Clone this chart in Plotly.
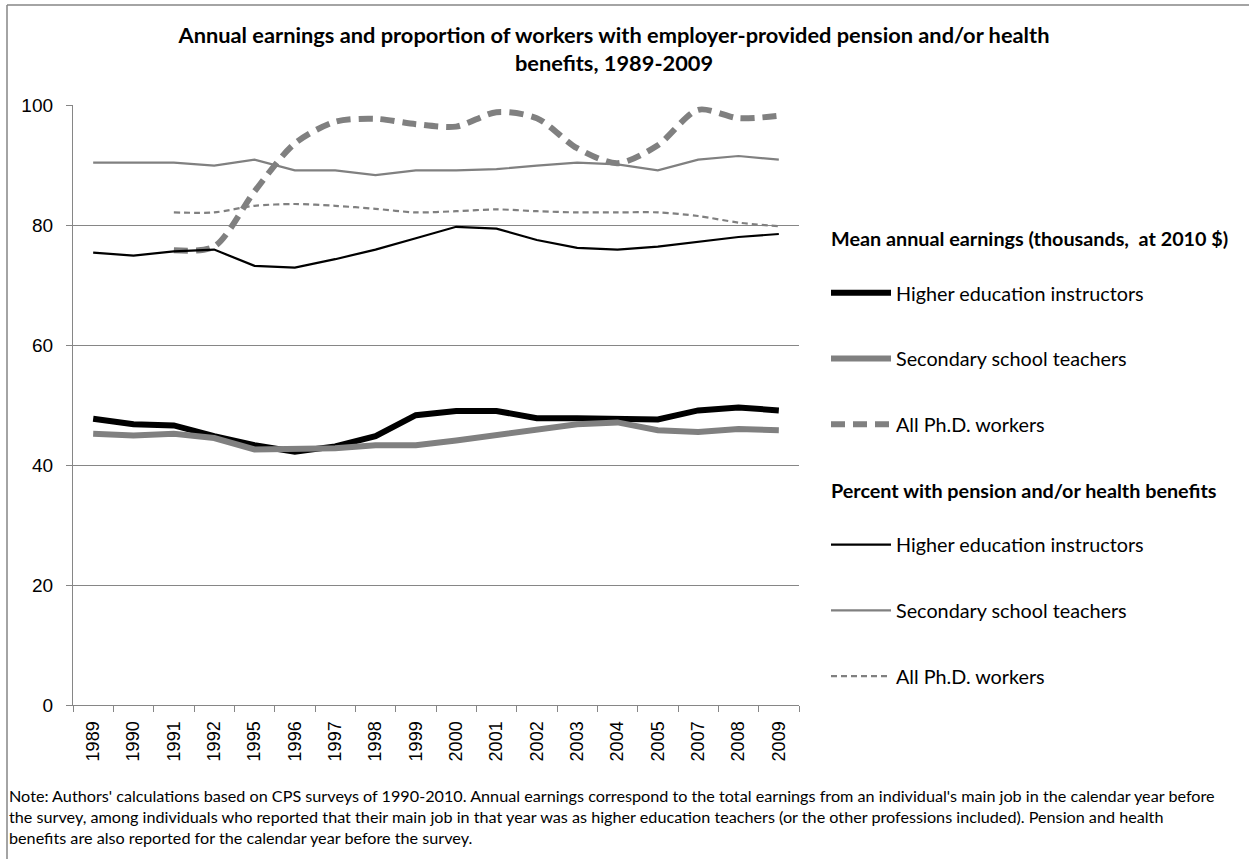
import plotly.graph_objects as go

years = ["1989", "1990", "1991", "1992", "1995", "1996", "1997", "1998", "1999",
         "2000", "2001", "2002", "2003", "2004", "2005", "2007", "2008", "2009"]

earn_higher = [47.7, 46.8, 46.6, 44.8, 43.3, 42.2, 43.1, 44.8, 48.3, 49.0, 49.0, 47.8,
               47.8, 47.6, 47.6, 49.1, 49.6, 49.1]
earn_secondary = [45.2, 44.9, 45.2, 44.5, 42.6, 42.6, 42.8, 43.3, 43.3, 44.1, 45.0, 46.0,
                  46.8, 47.1, 45.8, 45.5, 46.0, 45.8]
earn_phd = [None, None, 75.8, 76.4, 85.6, 93.6, 97.2, 97.7, 96.8, 96.4, 98.8, 97.8,
            92.8, 90.3, 93.3, 99.2, 97.8, 98.2]

pens_higher = [75.4, 74.9, 75.6, 75.9, 73.2, 72.9, 74.3, 75.9, 77.8, 79.7, 79.4, 77.5,
               76.2, 75.9, 76.4, 77.2, 78.0, 78.5]
pens_secondary = [90.4, 90.4, 90.4, 89.9, 90.9, 89.1, 89.1, 88.3, 89.1, 89.1, 89.3, 89.9,
                  90.4, 90.1, 89.1, 90.9, 91.5, 90.9]
pens_phd = [None, None, 82.1, 82.1, 83.2, 83.5, 83.2, 82.7, 82.1, 82.3, 82.6, 82.3,
            82.1, 82.1, 82.1, 81.5, 80.4, 79.8]

title_text = ("<b>Annual earnings and proportion of workers with employer-provided pension and/or health<br>"
              "benefits, 1989-2009</b>")
group1_title = "Mean annual earnings (thousands,  at 2010 $)"
group2_title = "Percent with pension and/or health benefits"
note_text = ("Note: Authors' calculations based on CPS surveys of 1990-2010. Annual earnings correspond to the total earnings from an individual's main job in the calendar year before<br>"
             "the survey, among individuals who reported that their main job in that year was as higher education teachers (or the other professions included). Pension and health<br>"
             "benefits are also reported for the calendar year before the survey.")

BLACK = "#000000"
GRAY = "#808080"
FONT = "Lato"
TICKFONT = "Liberation Sans"

L, R, T, B = 73, 450, 105, 154
PW, PH = 1249 - L - R, 859 - T - B

series = [
    ("Higher education instructors", earn_higher, BLACK, 6, "solid", "linear", group1_title),
    ("Secondary school teachers", earn_secondary, GRAY, 6, "solid", "linear", None),
    ("All Ph.D. workers", earn_phd, GRAY, 6, "14px,8px", "spline", None),
    ("Higher education instructors", pens_higher, BLACK, 2.2, "solid", "linear", group2_title),
    ("Secondary school teachers", pens_secondary, GRAY, 2.2, "solid", "linear", None),
    ("All Ph.D. workers", pens_phd, GRAY, 2.2, "6px,4px", "spline", None),
]

fig = go.Figure()
for i, (name, vals, color, width, dash, shape, gtitle) in enumerate(series):
    kw = {}
    if gtitle:
        kw["legendgrouptitle"] = dict(text="<b>" + gtitle + "</b><br>\u00a0",
                                      font=dict(family=FONT, size=19.8, color="#000000"))
    fig.add_trace(go.Scatter(
        x=years, y=vals, mode="lines", name=name,
        line=dict(color=color, width=width, dash=dash, shape=shape, smoothing=0.8),
        connectgaps=False, legendgroup="g%d" % i, **kw))

fig.update_layout(
    width=1249, height=859,
    paper_bgcolor="white", plot_bgcolor="white",
    margin=dict(l=L, r=R, t=T, b=B, autoexpand=False),
    title=dict(text=title_text, x=614 / 1249, xref="container", xanchor="center",
               y=1 - 43 / 859, yref="container", yanchor="top",
               font=dict(family=FONT, size=21.8, color="#000000")),
    font=dict(family=TICKFONT, size=19, color="#000000"),
    showlegend=True,
    legend=dict(x=826 / 1249, xref="container", xanchor="left",
                y=1 - 219 / 859, yref="container", yanchor="top",
                maxheight=620,
                font=dict(family=FONT, size=19.8, color="#000000"),
                tracegroupgap=37, itemwidth=60, bgcolor="rgba(0,0,0,0)",
                traceorder="grouped"),
    xaxis=dict(type="category", range=[-0.5, len(years) - 0.5], showgrid=False,
               showline=True, linecolor="#868686",
               linewidth=1.3, ticks="outside", tickson="boundaries", ticklen=6,
               tickcolor="#868686", tickangle=-90, tickfont=dict(family=TICKFONT, size=18),
               zeroline=False, ticklabelstandoff=8),
    yaxis=dict(range=[0, 100], dtick=20, showgrid=True, gridcolor="#868686", gridwidth=1.3,
               showline=True, linecolor="#868686", linewidth=1.3, ticks="outside", ticklen=6,
               tickcolor="#868686", zeroline=False, tickfont=dict(family=TICKFONT, size=19),
               ticklabelstandoff=9),
    annotations=[dict(text=note_text, xref="paper", yref="paper", x=(7 - L) / PW,
                      y=-(784 - 705) / PH, xanchor="left", yanchor="top", align="left",
                      showarrow=False, font=dict(family=FONT, size=16.2, color="#000000"))],
    shapes=[dict(type="line", xref="paper", yref="paper", x0=(7 - L) / PW, x1=(7 - L) / PW,
                 y0=-(860 - 705) / PH, y1=(705 - 5) / PH, line=dict(color="#868686", width=1.5)),
            dict(type="line", xref="paper", yref="paper", x0=(7 - L) / PW, x1=(1260 - L) / PW,
                 y0=(705 - 5) / PH, y1=(705 - 5) / PH, line=dict(color="#868686", width=1.5))],
)

fig.write_html("out.html")
